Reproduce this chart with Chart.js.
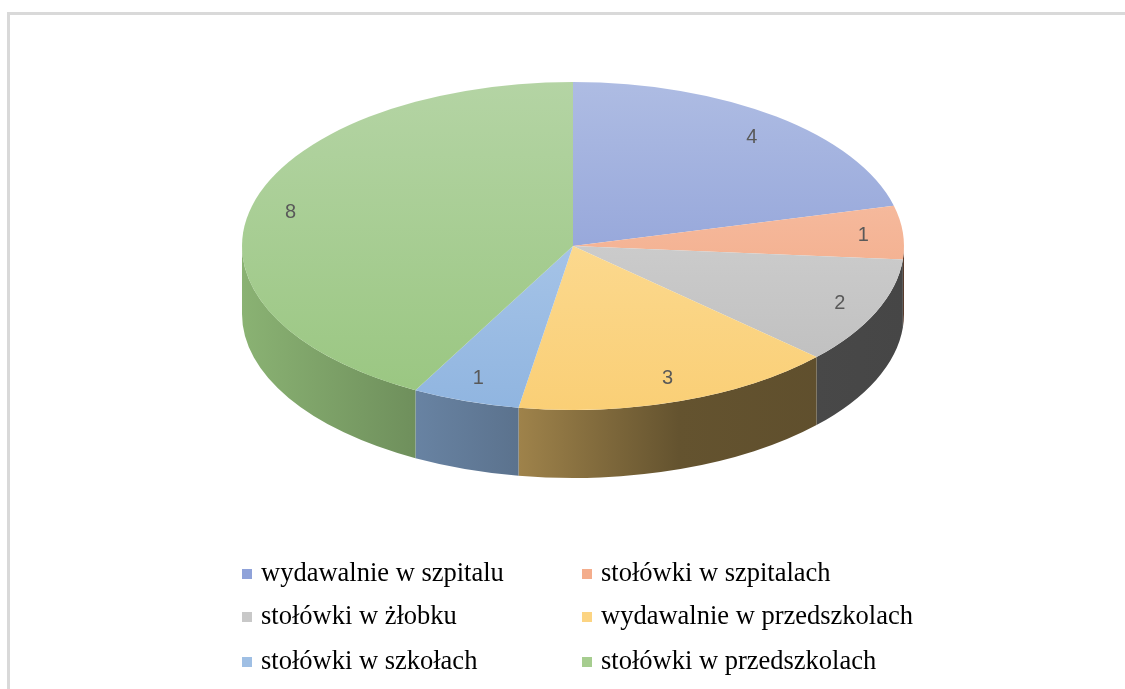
<!DOCTYPE html>
<html>
<head>
<meta charset="utf-8">
<script src="https://cdn.jsdelivr.net/npm/chart.js@4"></script>
<style>
  html, body { margin: 0; padding: 0; background: #fff; }
  body { width: 1125px; height: 689px; overflow: hidden; position: relative; }
  .ramka { position: absolute; left: 7px; top: 12px; width: 1200px; height: 800px;
           border-left: 3px solid #d9d9d9; border-top: 3px solid #d9d9d9; }
  #wykres { position: absolute; left: 0; top: 0; }
  .legenda { position: absolute; font-family: "Liberation Serif", "Times New Roman", serif;
             font-size: 26.5px; color: #000; white-space: nowrap; line-height: 1; }
  .legenda span.kw { display: inline-block; width: 10px; height: 10px; margin-right: 9px; vertical-align: 2px; }
</style>
</head>
<body>
<div class="ramka"></div>
<canvas id="wykres" width="1125" height="689"></canvas>
<div id="legenda"></div>
<script>
// dane z wykresu
const kategorie = ['wydawalnie w szpitalu', 'stołówki w szpitalach', 'stołówki w żłobku',
  'wydawalnie w przedszkolach', 'stołówki w szkołach', 'stołówki w przedszkolach'];
const wartosci = [4, 1, 2, 3, 1, 8];

// kolory: góra / dół wierzchu kawałka (rgb)
const koloryGora = [[174, 188, 227], [248, 200, 178], [218, 218, 218], [253, 226, 165], [186, 209, 238], [180, 212, 164]];
const koloryDol = [[130, 149, 211], [241, 160, 120], [188, 188, 188], [250, 207, 118], [144, 181, 224], [153, 198, 128]];
const koloryLegendy = ['#8fa2d9', '#f4ad8c', '#c8c8c8', '#fcd482', '#9fbfe4', '#a6cd8f'];

const PROMIEN = 331;
const RY = 164;     // półoś pionowa elipsy
const GLEBOKOSC = 68;

const rgb = (c, f) => 'rgb(' + c.map(v => Math.round(v * f)).join(',') + ')';

// wierzch kawałka - gradient pionowy (w układzie przed spłaszczeniem)
function kolorWierzchu(ctx) {
  const i = ctx.dataIndex;
  const area = ctx.chart.chartArea;
  if (!area) return rgb(koloryDol[i], 1);
  const cy = (area.top + area.bottom) / 2;
  const g = ctx.chart.ctx.createLinearGradient(0, cy - PROMIEN, 0, cy + PROMIEN);
  g.addColorStop(0, rgb(koloryGora[i], 1));
  g.addColorStop(1, rgb(koloryDol[i], 1));
  return g;
}

// plugin: boki 3D + spłaszczenie + etykiety
const pie3d = {
  id: 'pie3d',
  beforeDatasetsDraw(chart) {
    const ctx = chart.ctx;
    const arcs = chart.getDatasetMeta(0).data;
    const cx = arcs[0].x, cy = arcs[0].y, r = arcs[0].outerRadius;
    const k = RY / r;
    arcs.forEach((arc, i) => {
      const a1 = Math.max(arc.startAngle, 0);
      const a2 = Math.min(arc.endAngle, Math.PI);
      if (a1 >= a2) return;
      const g = ctx.createLinearGradient(cx - r, 0, cx + r, 0);
      const c = koloryDol[i];
      g.addColorStop(0, rgb(c, 0.9));
      g.addColorStop(0.25, rgb(c, 0.73));
      g.addColorStop(0.42, rgb(c, 0.63));
      g.addColorStop(0.66, rgb(c, 0.4));
      g.addColorStop(1, rgb(c, 0.37));
      ctx.beginPath();
      ctx.ellipse(cx, cy, r, r * k, 0, a1, a2);
      ctx.ellipse(cx, cy + GLEBOKOSC, r, r * k, 0, a2, a1, true);
      ctx.closePath();
      ctx.fillStyle = g;
      ctx.fill();
    });
    ctx.save();
    ctx.translate(cx, cy);
    ctx.scale(1, k);
    ctx.translate(-cx, -cy);
  },
  afterDatasetsDraw(chart) {
    const ctx = chart.ctx;
    ctx.restore();
    const arcs = chart.getDatasetMeta(0).data;
    const cx = arcs[0].x, cy = arcs[0].y, r = arcs[0].outerRadius;
    const k = RY / r;
    ctx.save();
    ctx.font = '20px "Liberation Sans", Arial, sans-serif';
    ctx.fillStyle = '#595959';
    ctx.textAlign = 'center';
    ctx.textBaseline = 'middle';
    arcs.forEach((arc, i) => {
      const mid = (arc.startAngle + arc.endAngle) / 2;
      const x = cx + 0.88 * r * Math.cos(mid);
      const y = cy + 0.85 * r * k * Math.sin(mid) + 1;
      ctx.fillText(String(wartosci[i]), x, y);
    });
    ctx.restore();
  }
};

new Chart(document.getElementById('wykres'), {
  type: 'pie',
  data: {
    labels: kategorie,
    datasets: [{
      data: wartosci,
      backgroundColor: kolorWierzchu,
      borderWidth: 0,
      radius: PROMIEN,
      clip: false
    }]
  },
  options: {
    responsive: false,
    animation: false,
    events: [],
    layout: { padding: { left: 21, right: 0, top: 0, bottom: 197 } },
    plugins: {
      legend: { display: false },
      tooltip: { enabled: false }
    }
  },
  plugins: [pie3d]
});

// legenda w dwóch kolumnach
const legenda = document.getElementById('legenda');
const kolX = [242, 582];
const wierszY = [573, 616, 661];
kategorie.forEach((nazwa, i) => {
  const d = document.createElement('div');
  d.className = 'legenda';
  d.style.left = kolX[i % 2] + 'px';
  d.style.top = (wierszY[Math.floor(i / 2)] - 14) + 'px';
  d.innerHTML = '<span class="kw" style="background:' + koloryLegendy[i] + '"></span>' + nazwa;
  legenda.appendChild(d);
});
</script>
</body>
</html>
